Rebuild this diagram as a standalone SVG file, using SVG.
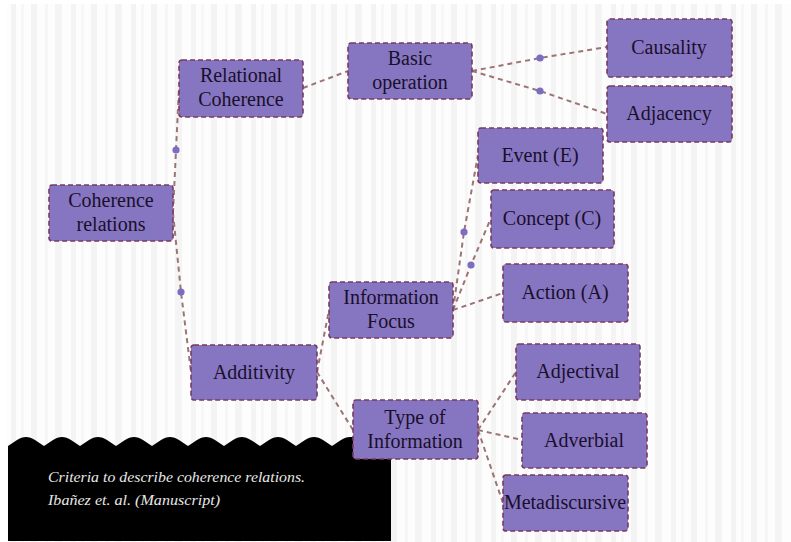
<svg xmlns="http://www.w3.org/2000/svg" width="791" height="542" viewBox="0 0 791 542">
<defs>
<pattern id="stripes" x="7" y="0" width="60" height="10" patternUnits="userSpaceOnUse">
<rect width="60" height="10" fill="#fdfdfd"/>
<rect x="4" width="5" height="10" fill="#f4f4f4"/>
<rect x="14" width="3" height="10" fill="#f7f7f7"/>
<rect x="24" width="6" height="10" fill="#f3f3f3"/>
<rect x="38" width="3" height="10" fill="#f6f6f6"/>
<rect x="48" width="7" height="10" fill="#f4f4f4"/>
</pattern>
<marker id="dot" viewBox="0 0 10 10" refX="5" refY="5" markerWidth="8" markerHeight="8" markerUnits="userSpaceOnUse">
<circle cx="5" cy="5" r="4.5" fill="#7b6cc4"/>
</marker>
</defs>
<style>
.node rect{fill:#8676c2;stroke:#7a3a5c;stroke-width:1.6;stroke-dasharray:5 3}
.node text{font-family:"Liberation Serif","DejaVu Serif",serif;font-size:20px;fill:#1a0f2a;text-anchor:middle}
.conn path{fill:none;stroke:#9c7474;stroke-width:2;stroke-dasharray:5 4}
.cap{font-family:"Liberation Serif","DejaVu Serif",serif;font-style:italic;font-size:15px;fill:#e8e8e8}
</style>
<rect x="0" y="0" width="791" height="542" fill="#ffffff"/>
<rect x="7" y="4" width="784" height="538" fill="url(#stripes)"/>

<g id="connectors" class="conn">
<path d="M173 213 L176 150 L179 88" marker-mid="url(#dot)"/>
<path d="M173 213 L181 292 L191 372" marker-mid="url(#dot)"/>
<path d="M303 88 L348 71"/>
<path d="M472 71 L540 58 L607 47" marker-mid="url(#dot)"/>
<path d="M472 71 L540 91 L607 114" marker-mid="url(#dot)"/>
<path d="M317 372 L329 310"/>
<path d="M317 372 L353 430"/>
<path d="M453 310 L464 232 L478 155" marker-mid="url(#dot)"/>
<path d="M453 310 L471 265 L491 218" marker-mid="url(#dot)"/>
<path d="M453 310 L503 293"/>
<path d="M478 430 L516 372"/>
<path d="M478 430 L522 440"/>
<path d="M478 430 L503 503"/>
</g>

<g id="caption">
<path d="M8 541 L8 446 C14 442 20 437 26 437 C32 437 38 442 44 446 C50 442 56 437 62 437 C68 437 74 442 80 446 C86 442 92 437 98 437 C104 437 110 442 116 446 C122 442 128 437 134 437 C140 437 146 442 152 446 C158 442 164 437 170 437 C176 437 182 442 188 446 C194 442 200 437 206 437 C212 437 218 442 224 446 C230 442 236 437 242 437 C248 437 254 442 260 446 C266 442 272 437 278 437 C284 437 290 442 296 446 C302 442 308 437 314 437 C320 437 326 442 332 446 C338 442 344 437 350 437 L391 437 L391 541 Z" fill="#000000"/>
<text class="cap" x="48" y="482" textLength="257" lengthAdjust="spacingAndGlyphs">Criteria to describe coherence relations.</text>
<text class="cap" x="48" y="505" textLength="172" lengthAdjust="spacingAndGlyphs">Ibañez et. al. (Manuscript)</text>
</g>

<g id="n-coherence" class="node"><rect x="49" y="185" width="124" height="56" rx="3"/><text x="111" y="207">Coherence</text><text x="111" y="231">relations</text></g>
<g id="n-relational" class="node"><rect x="179" y="60" width="124" height="57" rx="3"/><text x="241" y="82">Relational</text><text x="241" y="106">Coherence</text></g>
<g id="n-basic" class="node"><rect x="348" y="43" width="124" height="56" rx="3"/><text x="410" y="65">Basic</text><text x="410" y="89">operation</text></g>
<g id="n-causality" class="node"><rect x="607" y="19" width="125" height="58" rx="3"/><text x="669" y="54">Causality</text></g>
<g id="n-adjacency" class="node"><rect x="607" y="86" width="125" height="56" rx="3"/><text x="669" y="120">Adjacency</text></g>
<g id="n-event" class="node"><rect x="478" y="128" width="125" height="55" rx="3"/><text x="540" y="162">Event (E)</text></g>
<g id="n-concept" class="node"><rect x="491" y="190" width="123" height="58" rx="3"/><text x="552" y="225">Concept (C)</text></g>
<g id="n-action" class="node"><rect x="503" y="264" width="125" height="58" rx="3"/><text x="565" y="299">Action (A)</text></g>
<g id="n-infofocus" class="node"><rect x="329" y="282" width="124" height="56" rx="3"/><text x="391" y="304">Information</text><text x="391" y="328">Focus</text></g>
<g id="n-additivity" class="node"><rect x="191" y="345" width="126" height="55" rx="3"/><text x="254" y="379">Additivity</text></g>
<g id="n-type" class="node"><rect x="353" y="400" width="125" height="59" rx="3"/><text x="415" y="424">Type of</text><text x="415" y="448">Information</text></g>
<g id="n-adjectival" class="node"><rect x="516" y="344" width="124" height="56" rx="3"/><text x="578" y="378">Adjectival</text></g>
<g id="n-adverbial" class="node"><rect x="522" y="413" width="125" height="55" rx="3"/><text x="584" y="447">Adverbial</text></g>
<g id="n-metadiscursive" class="node"><rect x="503" y="475" width="125" height="56" rx="3"/><text x="565" y="509">Metadiscursive</text></g>
</svg>
